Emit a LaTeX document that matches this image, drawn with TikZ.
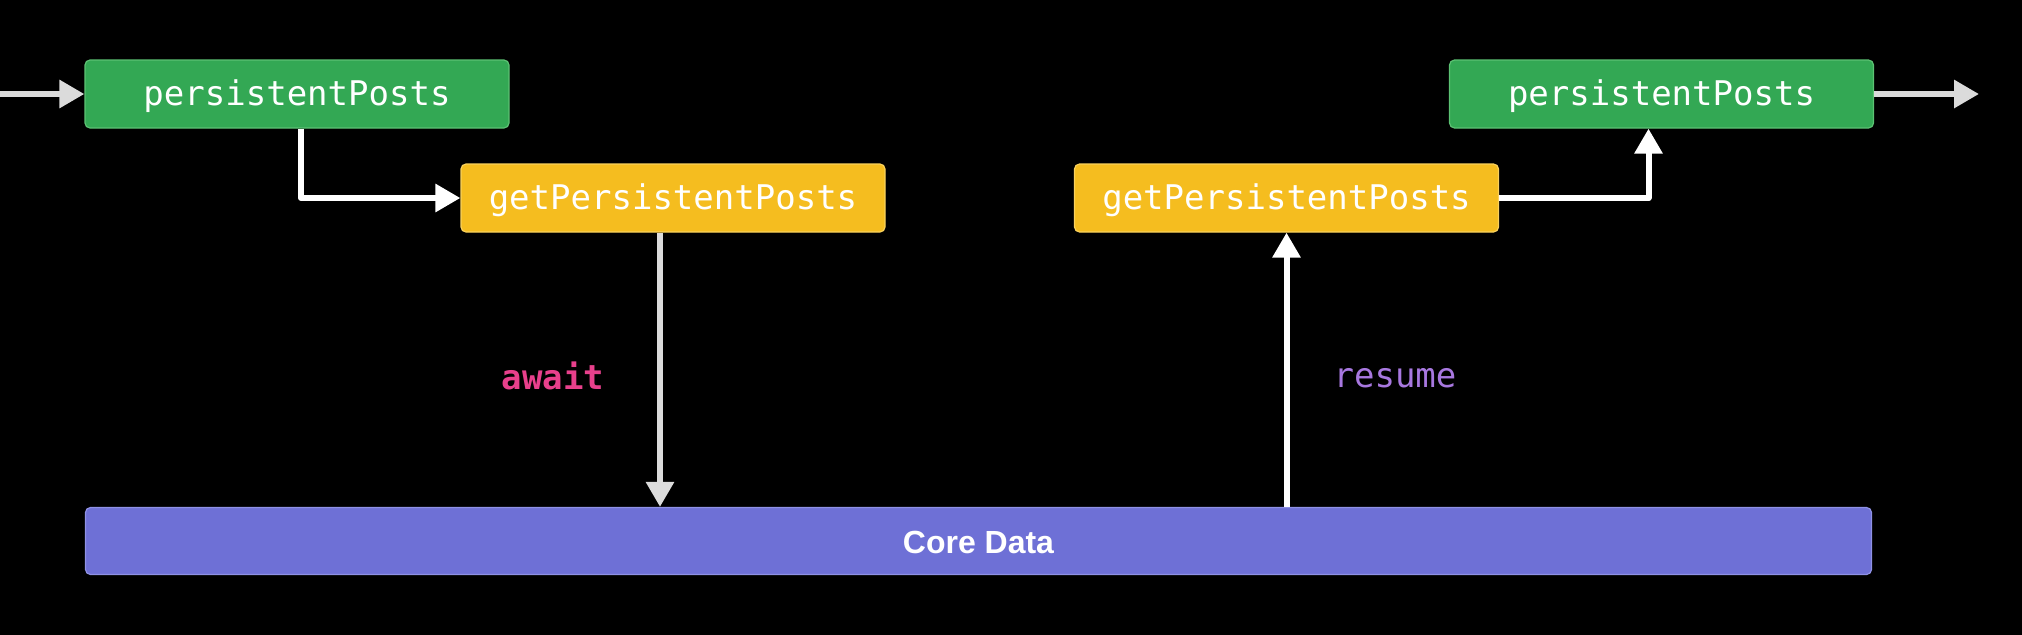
\documentclass[tikz,border=0pt]{standalone}
\usepackage{fontspec}
\setmainfont{Liberation Sans}
\setmonofont{DejaVu Sans Mono}
\usetikzlibrary{arrows.meta}
\definecolor{qqaaqq}{rgb}{0.2,0.66,0.33}
\definecolor{ggccgg}{rgb}{0.36,0.76,0.45}
\definecolor{ffbbqq}{rgb}{0.96,0.74,0.12}
\definecolor{ffccgg}{rgb}{0.98,0.82,0.36}
\definecolor{ggggdd}{rgb}{0.43,0.44,0.84}
\definecolor{iiiiee}{rgb}{0.56,0.57,0.9}
\definecolor{eeqqaa}{rgb}{0.91,0.25,0.55}
\definecolor{aaggee}{rgb}{0.66,0.47,0.88}
\definecolor{dddddd}{rgb}{0.86,0.86,0.86}
\tikzset{
	box/.style={rounded corners=2.5pt,line width=0.6pt,minimum width=212pt,minimum height=34pt,inner sep=0pt,text height=13.5pt,text depth=2.5pt,text=white,font=\fontsize{17}{20}\selectfont\ttfamily},
	postsbox/.style={box,fill=qqaaqq,draw=ggccgg},
	getbox/.style={box,fill=ffbbqq,draw=ffccgg},
	storebox/.style={box,fill=ggggdd,draw=iiiiee,minimum width=893pt,minimum height=33.5pt,text height=12pt,text depth=0pt,font=\fontsize{16}{19}\selectfont\bfseries\rmfamily},
	flow/.style={->,line width=3pt,color=dddddd},
	hop/.style={->,line width=3pt,color=white}
}
\begin{document}
\begin{tikzpicture}[line join=round,>={Triangle[length=12.5pt,width=13.5pt]},x=0.5pt,y=-0.5pt]
	\useasboundingbox (0,0) rectangle (2022,634);
	\fill[black] (-4,-4) rectangle (2026,638);
	\node[postsbox] (posts1) at (297,94) {persistentPosts};
	\node[getbox] (get1) at (673,198) {getPersistentPosts};
	\node[getbox] (get2) at (1286.5,198) {getPersistentPosts};
	\node[postsbox] (posts2) at (1661.5,94) {persistentPosts};
	\node[storebox] (core) at (978.5,541) {Core Data};
	\coordinate (in) at (0,94);
	\coordinate (out) at (1979,94);
	\node[text=eeqqaa,font=\fontsize{17}{20}\selectfont\ttfamily\bfseries] (await) at (553,376) {await};
	\node[text=aaggee,font=\fontsize{17}{20}\selectfont\ttfamily] (resume) at (1395,378) {resume};
	\draw[flow] (in) -- (posts1.west);
	\draw[hop] ([xshift=2pt]posts1.south) |- (get1.west);
	\draw[flow] ([xshift=-6.5pt]get1.south) -- ([xshift=-6.5pt]get1.south |- core.north);
	\draw[hop] (get2.south |- core.north) -- (get2.south);
	\draw[hop] (get2.east) -| ([xshift=-6.5pt]posts2.south);
	\draw[flow] (posts2.east) -- (out);
\end{tikzpicture}
\end{document}
